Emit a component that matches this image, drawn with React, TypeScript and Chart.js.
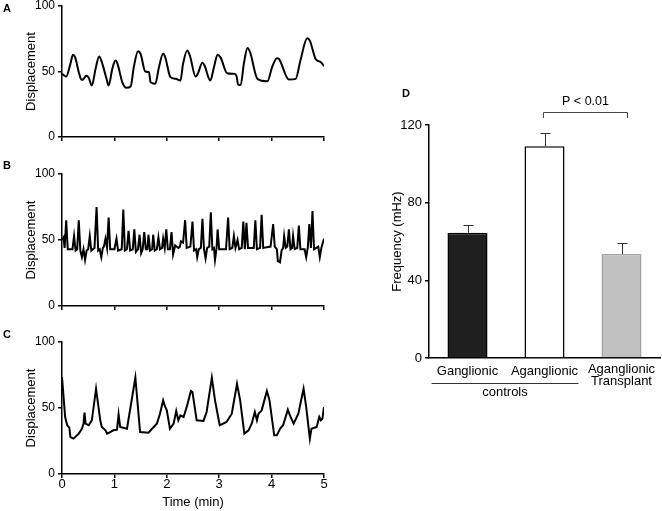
import React, { useEffect, useRef } from 'react';
import { Chart, registerables } from 'chart.js';

Chart.register(...registerables);

const FONT = '"Liberation Sans", Arial, Helvetica, sans-serif';

// ---- Panel A (ganglionic control trace) ----
const timeA = [0, 0.02, 0.08, 0.16, 0.21, 0.25, 0.32, 0.37, 0.41, 0.46, 0.51, 0.57, 0.64, 0.71, 0.76, 0.85, 0.89, 0.96, 1.02, 1.06, 1.15, 1.23, 1.31, 1.37, 1.45, 1.5, 1.59, 1.66, 1.69, 1.78, 1.85, 1.93, 1.97, 2.07, 2.17, 2.26, 2.31, 2.39, 2.44, 2.55, 2.59, 2.68, 2.72, 2.83, 2.9, 2.97, 3.03, 3.15, 3.28, 3.33, 3.36, 3.41, 3.47, 3.54, 3.59, 3.73, 3.92, 4.01, 4.1, 4.14, 4.33, 4.46, 4.55, 4.68, 4.73, 4.84, 4.94, 5.0];
const dispA = [48, 47.7, 46.2, 55.8, 62.7, 60.9, 49.5, 43.7, 44.2, 46.7, 45.2, 39.3, 52, 61.4, 57.1, 44.4, 39.3, 52, 58.4, 55.8, 41.9, 37.6, 38.6, 53.3, 65.5, 63.5, 50, 49.5, 41.9, 40.6, 53.3, 63.5, 60.9, 45.7, 44.4, 43.1, 55.8, 66, 62.2, 46.2, 48.2, 56.6, 54.6, 43.1, 53.3, 62.7, 60.4, 48.7, 48.2, 46.7, 40.1, 39.6, 55.8, 68, 64.7, 44.4, 42.6, 53.3, 60.2, 59.6, 43.9, 44.4, 58.4, 75.4, 73.6, 59.6, 57.1, 54.1];

// ---- Panel B (aganglionic control trace) ----
const timeB = [0, 0.03, 0.05, 0.08, 0.11, 0.2, 0.23, 0.26, 0.29, 0.32, 0.35, 0.38, 0.41, 0.44, 0.47, 0.5, 0.53, 0.56, 0.62, 0.66, 0.69, 0.72, 0.75, 0.78, 0.8, 0.83, 0.86, 0.89, 0.92, 1.0, 1.04, 1.07, 1.14, 1.17, 1.2, 1.24, 1.27, 1.3, 1.35, 1.38, 1.41, 1.45, 1.48, 1.51, 1.54, 1.57, 1.6, 1.63, 1.65, 1.68, 1.72, 1.74, 1.77, 1.81, 1.84, 1.87, 1.91, 1.93, 1.96, 1.99, 2.02, 2.06, 2.09, 2.12, 2.16, 2.22, 2.25, 2.27, 2.31, 2.35, 2.38, 2.45, 2.49, 2.52, 2.56, 2.58, 2.61, 2.65, 2.68, 2.71, 2.74, 2.77, 2.81, 2.84, 2.87, 2.9, 2.92, 2.95, 2.97, 3.0, 3.13, 3.17, 3.2, 3.25, 3.28, 3.31, 3.35, 3.38, 3.43, 3.46, 3.49, 3.52, 3.55, 3.66, 3.69, 3.72, 3.78, 3.81, 3.84, 3.98, 4.03, 4.06, 4.1, 4.12, 4.16, 4.19, 4.22, 4.24, 4.27, 4.3, 4.33, 4.36, 4.39, 4.41, 4.44, 4.49, 4.52, 4.55, 4.63, 4.66, 4.69, 4.72, 4.75, 4.78, 4.81, 4.89, 4.92, 4.95, 4.97, 5.0];
const dispB = [50, 52, 44, 65, 43, 43, 53, 42, 43, 65, 42, 37, 43, 35, 42, 43, 53, 42, 44, 75, 42, 43, 37, 44, 45, 51, 44, 67, 43, 43, 51, 42, 43, 73, 42, 43, 57, 42, 43, 58, 41, 43, 54, 40, 43, 56, 43, 43, 54, 42, 43, 54, 42, 43, 52, 43, 44, 51, 44, 58, 43, 43, 56, 39, 46, 44, 45, 49, 48, 65, 44, 45, 64, 42, 43, 37, 43, 44, 66, 43, 36, 44, 45, 71, 43, 44, 35, 44, 58, 43, 43, 67, 43, 44, 53, 44, 50, 43, 44, 64, 43, 63, 44, 44, 65, 43, 44, 69, 44, 45, 62, 45, 43, 34, 33, 42, 44, 53, 44, 45, 58, 43, 44, 53, 43, 44, 61, 43, 43, 37, 44, 62, 44, 72, 43, 45, 37, 44, 47, 51];

// ---- Panel C (aganglionic transplant trace) ----
const timeC = [0, 0.03, 0.06, 0.1, 0.14, 0.16, 0.22, 0.32, 0.38, 0.41, 0.43, 0.45, 0.51, 0.57, 0.65, 0.73, 0.76, 0.83, 0.86, 0.92, 0.98, 1.05, 1.08, 1.11, 1.24, 1.4, 1.49, 1.65, 1.75, 1.81, 1.87, 1.93, 1.97, 2.0, 2.06, 2.13, 2.18, 2.22, 2.26, 2.32, 2.38, 2.46, 2.49, 2.57, 2.7, 2.76, 2.86, 2.92, 3.01, 3.14, 3.24, 3.34, 3.4, 3.48, 3.56, 3.62, 3.68, 3.72, 3.75, 3.81, 3.91, 3.96, 4.05, 4.1, 4.16, 4.22, 4.31, 4.35, 4.42, 4.51, 4.61, 4.66, 4.73, 4.76, 4.86, 4.91, 4.94, 4.97, 5.0];
const dispC = [73.5, 58.3, 43.2, 36.9, 35.1, 28, 26.8, 30.6, 34.3, 38.1, 46.5, 38.1, 36.9, 40.7, 64.6, 40.7, 35.6, 33.1, 30.6, 31.8, 33.1, 33.6, 45.2, 35.6, 34.3, 73, 31.8, 31.3, 35.6, 38.1, 45.7, 55.8, 50.8, 48.2, 34.3, 38.1, 47.7, 40.7, 44.4, 43.2, 50.8, 62.9, 62.1, 40.7, 40.2, 47, 73, 55.8, 36.9, 39.4, 45.7, 68.4, 55.8, 30.6, 33.1, 38.1, 47, 40.7, 45.7, 48.2, 62.9, 55.8, 29.3, 29.3, 34.3, 36.9, 48.7, 44.4, 38.1, 45.7, 64.6, 50.8, 26.8, 34.3, 35.6, 43.2, 40.7, 41.9, 50.8];

const timeTicks = [0, 1, 2, 3, 4, 5];
const displacementTicks = [0, 50, 100];

// ---- Panel D (frequency bar chart) ----
const freqCategories = [['Ganglionic'], ['Aganglionic'], ['Aganglionic', 'Transplant']];
const freqMeans = [64.5, 109, 53.5];
const freqErrors = [4, 7, 5.5];
const freqTicks = [0, 40, 80, 120];
const groupLabel = 'controls';
const groupMembers = [0, 1];
const significance = 'P < 0.01';
const significancePair = [1, 2];

const letterPlugin = (letter: string, x: number, y: number) => ({
  id: 'panelLetter',
  afterDraw(chart: any) {
    const ctx = chart.ctx;
    ctx.save();
    ctx.font = `bold 11px ${FONT}`;
    ctx.fillStyle = '#000';
    ctx.textAlign = 'left';
    ctx.textBaseline = 'alphabetic';
    ctx.fillText(letter, x, y);
    ctx.restore();
  },
});

type TraceProps = {
  times: number[];
  values: number[];
  top: number;
  height: number;
  padTop: number;
  xHeight: number;
  showX: boolean;
  letter: string;
  letterY: number;
  smooth: boolean;
};

function TracePanel(p: TraceProps) {
  const ref = useRef<HTMLCanvasElement>(null);
  useEffect(() => {
    const chart = new Chart(ref.current as HTMLCanvasElement, {
      type: 'line',
      data: {
        datasets: [
          {
            data: p.times.map((t, i) => ({ x: t, y: p.values[i] })),
            borderColor: '#000',
            borderWidth: 2,
            pointRadius: 0,
            fill: false,
            tension: 0,
            cubicInterpolationMode: p.smooth ? 'monotone' : 'default',
          } as any,
        ],
      },
      options: {
        responsive: false,
        animation: false,
        layout: { padding: { top: p.padTop, right: 11, left: 0, bottom: 0 } },
        plugins: { legend: { display: false }, tooltip: { enabled: false } },
        scales: {
          x: {
            type: 'linear',
            min: 0,
            max: 5,
            afterBuildTicks: (s: any) => {
              s.ticks = timeTicks.map((v) => ({ value: v }));
            },
            afterFit: (s: any) => {
              s.height = p.xHeight;
              s.paddingLeft = 0;
              s.paddingRight = 0;
            },
            ticks: {
              display: p.showX,
              color: '#000',
              padding: 0,
              maxRotation: 0,
              font: { family: FONT, size: 13, lineHeight: 1 },
            },
            grid: { drawOnChartArea: false, tickLength: 4, color: '#000', lineWidth: 1.5 },
            border: { color: '#000', width: 1.5 },
            title: {
              display: p.showX,
              text: 'Time (min)',
              color: '#000',
              font: { family: FONT, size: 13 },
              padding: { top: 0, bottom: 1 },
            },
          },
          y: {
            min: 0,
            max: 100,
            afterBuildTicks: (s: any) => {
              s.ticks = displacementTicks.map((v) => ({ value: v }));
            },
            afterFit: (s: any) => {
              s.width = 62;
              s.paddingTop = 0;
              s.paddingBottom = 0;
            },
            ticks: {
              color: '#000',
              padding: 3,
              font: { family: FONT, size: 12, lineHeight: 1 },
            },
            grid: { drawOnChartArea: false, tickLength: 4, color: '#000', lineWidth: 1.5 },
            border: { color: '#000', width: 1.5 },
            title: {
              display: true,
              text: 'Displacement',
              color: '#000',
              font: { family: FONT, size: 13 },
              padding: { top: 24, bottom: 0 },
            },
          },
        },
      } as any,
      plugins: [letterPlugin(p.letter, 3, p.letterY)],
    });
    return () => chart.destroy();
  }, []);
  return (
    <div style={{ position: 'absolute', left: 0, top: p.top, width: 335, height: p.height }}>
      <canvas ref={ref} width={335} height={p.height} />
    </div>
  );
}

const barExtras = {
  id: 'barExtras',
  afterDraw(chart: any) {
    const ctx = chart.ctx;
    const xs = chart.scales.x;
    const ys = chart.scales.y;
    const ca = chart.chartArea;
    const meta = chart.getDatasetMeta(0);
    ctx.save();
    // error bars
    ctx.strokeStyle = '#333';
    ctx.lineWidth = 1;
    freqMeans.forEach((m, i) => {
      const bx = Math.round(meta.data[i].x) + 0.5;
      const y0 = ys.getPixelForValue(m);
      const y1 = Math.round(ys.getPixelForValue(m + freqErrors[i])) + 0.5;
      ctx.beginPath();
      ctx.moveTo(bx, y0);
      ctx.lineTo(bx, y1);
      ctx.moveTo(bx - 5, y1);
      ctx.lineTo(bx + 5, y1);
      ctx.stroke();
    });
    // category labels
    ctx.fillStyle = '#000';
    ctx.font = `13px ${FONT}`;
    ctx.textAlign = 'center';
    ctx.textBaseline = 'alphabetic';
    freqCategories.forEach((lines, i) => {
      const cx = xs.getPixelForValue(i);
      const base = ca.bottom + (lines.length > 1 ? 15 : 17);
      lines.forEach((ln, j) => ctx.fillText(ln, cx, base + j * 12));
    });
    // group underline + label
    const gx0 = xs.getPixelForValue(groupMembers[0]) - 36;
    const gx1 = xs.getPixelForValue(groupMembers[groupMembers.length - 1]) + 34;
    const gy = Math.round(ca.bottom + 25) + 0.5;
    ctx.strokeStyle = '#333';
    ctx.beginPath();
    ctx.moveTo(gx0, gy);
    ctx.lineTo(gx1, gy);
    ctx.stroke();
    ctx.fillText(groupLabel, (gx0 + gx1) / 2, ca.bottom + 37.5);
    // significance bracket
    const bl = Math.round(xs.getPixelForValue(significancePair[0]) - 2) + 0.5;
    const br = Math.round(xs.getPixelForValue(significancePair[1]) + 5) + 0.5;
    const by1 = Math.round(ca.top - 13) + 0.5;
    const by2 = ca.top - 7;
    ctx.strokeStyle = '#444';
    ctx.beginPath();
    ctx.moveTo(bl, by2);
    ctx.lineTo(bl, by1);
    ctx.lineTo(br, by1);
    ctx.lineTo(br, by2);
    ctx.stroke();
    ctx.font = `12.5px ${FONT}`;
    ctx.fillText(significance, (bl + br) / 2, ca.top - 20);
    // panel letter
    ctx.font = `bold 11px ${FONT}`;
    ctx.textAlign = 'left';
    ctx.fillText('D', 32, 17);
    ctx.restore();
  },
};

function BarPanel() {
  const ref = useRef<HTMLCanvasElement>(null);
  useEffect(() => {
    const chart = new Chart(ref.current as HTMLCanvasElement, {
      type: 'bar',
      data: {
        labels: freqCategories as any,
        datasets: [
          {
            data: freqMeans,
            backgroundColor: ['#1f1f1f', '#ffffff', '#c0c0c0'],
            borderColor: ['#000000', '#000000', '#a3a3a3'],
            borderWidth: 1.5,
            categoryPercentage: 1,
            barPercentage: 0.52,
          },
        ],
      },
      options: {
        responsive: false,
        animation: false,
        layout: { padding: { top: 45, right: 2, left: 0, bottom: 0 } },
        plugins: { legend: { display: false }, tooltip: { enabled: false } },
        scales: {
          x: {
            type: 'category',
            afterFit: (s: any) => {
              s.height = 42;
              s.paddingLeft = 0;
              s.paddingRight = 0;
            },
            ticks: { display: false },
            grid: { display: false },
            border: { color: '#000', width: 1.5 },
          },
          y: {
            min: 0,
            max: 120,
            afterBuildTicks: (s: any) => {
              s.ticks = freqTicks.map((v) => ({ value: v }));
            },
            afterFit: (s: any) => {
              s.width = 59;
              s.paddingTop = 0;
              s.paddingBottom = 0;
            },
            ticks: {
              color: '#000',
              padding: 3,
              font: { family: FONT, size: 13, lineHeight: 1 },
            },
            grid: { drawOnChartArea: false, tickLength: 4, color: '#000', lineWidth: 1.5 },
            border: { color: '#000', width: 1.5 },
            title: {
              display: true,
              text: 'Frequency (mHz)',
              color: '#000',
              font: { family: FONT, size: 13 },
              padding: { top: 20, bottom: 0 },
            },
          },
        },
      } as any,
      plugins: [barExtras],
    });
    return () => chart.destroy();
  }, []);
  return (
    <div style={{ position: 'absolute', left: 370, top: 80, width: 292, height: 320 }}>
      <canvas ref={ref} width={292} height={320} />
    </div>
  );
}

export default function App() {
  return (
    <div style={{ position: 'absolute', left: 0, top: 0, width: 662, height: 511, background: '#fff', overflow: 'hidden' }}>
      <TracePanel times={timeA} values={dispA} top={0} height={150} padTop={6} xHeight={13} showX={false} letter="A" letterY={12} smooth={true} />
      <TracePanel times={timeB} values={dispB} top={160} height={155} padTop={14} xHeight={9} showX={false} letter="B" letterY={9} smooth={false} />
      <TracePanel times={timeC} values={dispC} top={326} height={185} padTop={16} xHeight={37} showX={true} letter="C" letterY={12} smooth={false} />
      <BarPanel />
    </div>
  );
}
